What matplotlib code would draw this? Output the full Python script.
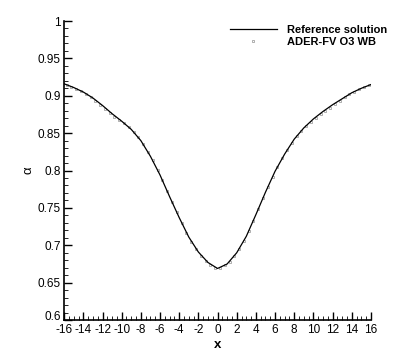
import numpy as np
import matplotlib.pyplot as plt
import matplotlib.transforms as mtransforms
from matplotlib.ticker import MultipleLocator

plt.rcParams['font.family'] = ['Liberation Sans', 'DejaVu Sans']
plt.rcParams['axes.unicode_minus'] = False

# reference solution alpha(x)
x_ref = [-16, -15, -14, -13, -12, -11, -10, -9, -8, -7, -6, -5, -4, -3, -2, -1, 0,
         1, 2, 3, 4, 5, 6, 7, 8, 9, 10, 11, 12, 13, 14, 15, 16]
a_ref = [0.916, 0.911, 0.905, 0.897, 0.887, 0.876, 0.866, 0.855, 0.840, 0.819, 0.794,
         0.765, 0.737, 0.711, 0.691, 0.677, 0.669, 0.675, 0.690, 0.712, 0.741,
         0.771, 0.799, 0.822, 0.842, 0.857, 0.869, 0.879, 0.888, 0.896, 0.904,
         0.910, 0.915]

# ADER-FV O3 WB cell values
x_num = [-15.75, -15.25, -14.75, -14.25, -13.75, -13.25, -12.75, -12.25, -11.75, -11.25,
         -10.75, -10.25, -9.75, -9.25, -8.75, -8.25, -7.75, -7.25, -6.75, -6.25,
         -5.75, -5.25, -4.75, -4.25, -3.75, -3.25, -2.75, -2.25, -1.75, -1.25,
         -0.75, -0.25, 0.25, 0.75, 1.25, 1.75, 2.25, 2.75, 3.25, 3.75, 4.25, 4.75,
         5.25, 5.75, 6.25, 6.75, 7.25, 7.75, 8.25, 8.75, 9.25, 9.75, 10.25, 10.75,
         11.25, 11.75, 12.25, 12.75, 13.25, 13.75, 14.25, 14.75, 15.25, 15.75]
a_num = [0.915, 0.912, 0.909, 0.906, 0.902, 0.898, 0.893, 0.888, 0.882, 0.877,
         0.872, 0.867, 0.863, 0.858, 0.852, 0.845, 0.836, 0.825, 0.814, 0.801,
         0.787, 0.772, 0.758, 0.744, 0.730, 0.717, 0.705, 0.695, 0.686, 0.679,
         0.673, 0.670, 0.670, 0.673, 0.678, 0.685, 0.695, 0.706, 0.719, 0.733,
         0.748, 0.763, 0.778, 0.792, 0.805, 0.817, 0.827, 0.837, 0.846, 0.853,
         0.859, 0.865, 0.870, 0.875, 0.880, 0.884, 0.889, 0.893, 0.898, 0.902,
         0.905, 0.909, 0.912, 0.915]

fig = plt.figure(figsize=(4.01, 3.56), dpi=100)
ax = fig.add_axes([0.16, 0.101, 0.765, 0.84])

ax.plot(x_ref, a_ref, color='black', lw=0.9, label='Reference solution', zorder=3)
ax.plot(x_num, a_num, ls='none', marker='s', ms=1.6, mfc='none', mec='#909090',
        mew=0.5, label='ADER-FV O3 WB', zorder=2)

ax.set_xlim(-16, 16)
ax.set_ylim(0.6, 1.0)
ax.xaxis.set_major_locator(MultipleLocator(2))
ax.xaxis.set_minor_locator(MultipleLocator(0.5))
ax.yaxis.set_minor_locator(MultipleLocator(0.01))
ax.set_yticks([0.6, 0.65, 0.7, 0.75, 0.8, 0.85, 0.9, 0.95, 1.0])
ax.set_yticklabels(['0.6', '0.65', '0.7', '0.75', '0.8', '0.85', '0.9', '0.95', '1'])

ax.spines['top'].set_visible(False)
ax.spines['right'].set_visible(False)
ax.spines['left'].set_linewidth(1.2)
ax.spines['bottom'].set_linewidth(1.2)
ax.tick_params(which='major', direction='in', length=6, width=1, labelsize=8.5)
ax.tick_params(which='minor', direction='in', length=3, width=0.6)
ax.tick_params(axis='y', which='major', pad=2.5)
ax.tick_params(axis='x', which='major', pad=3)

# lift the lowest y label a little so it clears "-16"
first = ax.get_yticklabels()[0]
first.set_transform(first.get_transform() +
                    mtransforms.ScaledTranslation(0, 3 / 72, fig.dpi_scale_trans))

ax.set_xlabel('x', fontsize=9.5, fontweight='bold', labelpad=2)
ax.set_ylabel('α', fontsize=9.5, labelpad=2)

ax.legend(loc='upper right', bbox_to_anchor=(1.085, 1.02), frameon=False,
          prop={'weight': 'bold', 'size': 8}, handlelength=4.2, labelspacing=0.2,
          handletextpad=0.9)

fig.savefig('out.png', dpi=100)
